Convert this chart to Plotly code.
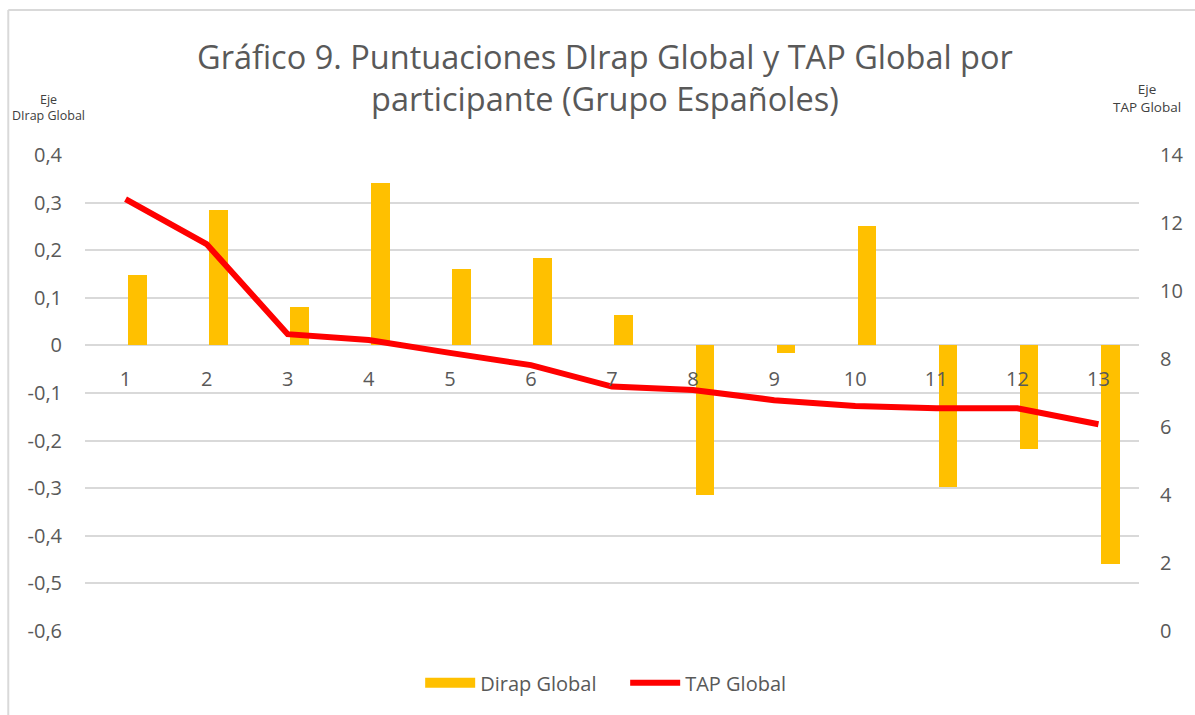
"""Gráfico 9: DIrap Global (barras) y TAP Global (línea) por participante."""
import plotly.graph_objects as go

PARTICIPANTES = list(range(1, 14))
DIRAP_GLOBAL = [0.147, 0.285, 0.081, 0.342, 0.161, 0.184, 0.063,
                -0.315, -0.016, 0.251, -0.297, -0.217, -0.460]
TAP_GLOBAL = [12.70, 11.38, 8.73, 8.56, 8.18, 7.82, 7.19,
              7.09, 6.79, 6.62, 6.55, 6.55, 6.08]

LEFT_TICKS = [0.4, 0.3, 0.2, 0.1, 0, -0.1, -0.2, -0.3, -0.4, -0.5, -0.6]
LEFT_TICK_TEXT = ["0,4", "0,3", "0,2", "0,1", "0", "-0,1", "-0,2", "-0,3", "-0,4", "-0,5", "-0,6"]
RIGHT_TICKS = [0, 2, 4, 6, 8, 10, 12, 14]

FONT = "Open Sans, Arial, sans-serif"
GREY = "#595959"
GRID = "#D9D9D9"
BAR_COLOR = "#FFC000"

fig = go.Figure()

fig.add_trace(go.Bar(
    x=PARTICIPANTES,
    y=DIRAP_GLOBAL,
    name="Dirap Global",
    marker=dict(color=BAR_COLOR, line_width=0),
    width=0.23,
    offset=0.03,
    yaxis="y",
    showlegend=False,
))

# legend-only entry so the swatch is a wide block like the original
fig.add_trace(go.Scatter(
    x=[None], y=[None],
    name="Dirap Global",
    mode="lines",
    line=dict(color=BAR_COLOR, width=14),
    yaxis="y",
))

fig.add_trace(go.Scatter(
    x=PARTICIPANTES,
    y=TAP_GLOBAL,
    name="TAP Global",
    mode="lines",
    line=dict(color="#FF0000", width=6),
    yaxis="y2",
))

fig.update_layout(
    width=1195,
    height=715,
    margin=dict(l=85, r=53, t=155, b=84),
    paper_bgcolor="white",
    plot_bgcolor="white",
    font=dict(family=FONT, color=GREY, size=20),
    showlegend=True,
    legend=dict(
        orientation="h", x=0.318, xanchor="left", y=-0.068, yanchor="top",
        font=dict(size=20, color=GREY), itemwidth=50,
        entrywidth=140, entrywidthmode="pixels",
    ),
    bargap=0,
    xaxis=dict(
        range=[0.5, 13.5],
        tickvals=PARTICIPANTES,
        ticks="outside", ticklen=16, tickcolor="rgba(0,0,0,0)",
        showgrid=False, zeroline=False, showline=False,
        anchor="free", position=0.6,
        tickfont=dict(size=20, color=GREY),
    ),
    yaxis=dict(
        range=[-0.6, 0.4],
        tickvals=LEFT_TICKS,
        ticktext=LEFT_TICK_TEXT,
        showgrid=True, gridcolor=GRID, gridwidth=1.5,
        zeroline=False, showline=False,
        ticks="outside", ticklen=18, tickcolor="rgba(0,0,0,0)",
        tickfont=dict(size=20, color=GREY),
    ),
    yaxis2=dict(
        range=[0, 14],
        tickvals=RIGHT_TICKS,
        overlaying="y", side="right",
        showgrid=False, zeroline=False, showline=False,
        ticks="outside", ticklen=16, tickcolor="rgba(0,0,0,0)",
        tickfont=dict(size=20, color=GREY),
    ),
)

# title
fig.add_annotation(
    text="Gráfico 9. Puntuaciones DIrap Global y TAP Global por<br>participante (Grupo Españoles)",
    xref="paper", yref="paper", x=0.493, y=1.258, xanchor="center", yanchor="top",
    showarrow=False, font=dict(family=FONT, size=32.5, color=GREY),
)

# axis titles (small, stacked, above each axis)
fig.add_annotation(text="Eje<br>DIrap Global", xref="paper", yref="paper",
                   x=-0.035, y=1.1, xanchor="center", yanchor="middle",
                   showarrow=False, font=dict(size=12.5, color="#404040"))
fig.add_annotation(text="Eje<br>TAP Global", xref="paper", yref="paper",
                   x=1.0076, y=1.12, xanchor="center", yanchor="middle",
                   showarrow=False, font=dict(size=13.5, color="#404040"))

# chart frame (left and top edges visible in the crop)
fig.add_shape(type="line", xref="paper", yref="paper", x0=-0.0728, x1=-0.0728, y0=1.3046, y1=-0.2,
              line=dict(color=GRID, width=2))
fig.add_shape(type="line", xref="paper", yref="paper", x0=-0.0728, x1=1.1, y0=1.3046, y1=1.3046,
              line=dict(color=GRID, width=2))

fig.write_html("out.html", config={"displayModeBar": False},
               post_script="document.body.style.margin='0';")
